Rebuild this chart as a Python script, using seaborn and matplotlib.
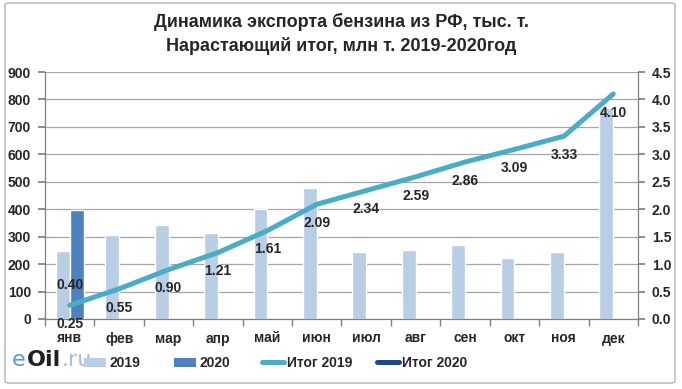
import numpy as np
import pandas as pd
import matplotlib
matplotlib.use("Agg")
import matplotlib.pyplot as plt
from matplotlib.lines import Line2D
from matplotlib.patches import Patch, FancyBboxPatch
import seaborn as sns

# -----------------------------
# Data
# -----------------------------
months = ["янв", "фев", "мар", "апр", "май", "июн", "июл", "авг", "сен", "окт", "ноя", "дек"]
export_2019 = [248, 305, 342, 313, 400, 478, 245, 252, 270, 222, 245, 770]
export_2020 = [397] + [np.nan] * 11
total_2019 = [0.25, 0.55, 0.90, 1.21, 1.61, 2.09, 2.34, 2.59, 2.86, 3.09, 3.33, 4.10]
total_2020 = [0.40]
left_ticks = list(range(0, 901, 100))
right_ticks = [0.0, 0.5, 1.0, 1.5, 2.0, 2.5, 3.0, 3.5, 4.0, 4.5]

C2019 = "#B9CDE5"
C2020 = "#4F81BD"
CLINE19 = "#4BACC6"
CLINE20 = "#1F497D"
GRID = "#A6A6A6"

sns.set_theme(style="white")
plt.rcParams["font.family"] = ["Liberation Sans Narrow", "Liberation Sans", "DejaVu Sans"]
plt.rcParams["font.weight"] = "bold"

df = pd.DataFrame({
    "month": months * 2,
    "year": ["2019"] * 12 + ["2020"] * 12,
    "value": export_2019 + export_2020,
})

fig = plt.figure(figsize=(6.82, 3.89), dpi=100)
ax = fig.add_axes([45 / 682, 1 - 319 / 389, (638 - 45) / 682, (319 - 72) / 389])

# outer frame
fig.patches.append(FancyBboxPatch((5 / 682, 6 / 389), 670 / 682, 380 / 389,
                                  boxstyle="round,pad=0,rounding_size=0.006",
                                  transform=fig.transFigure, fill=False,
                                  edgecolor="#BFBFBF", linewidth=1.2))

sns.barplot(data=df, x="month", y="value", hue="year", order=months,
            palette={"2019": C2019, "2020": C2020}, width=0.56,
            ax=ax, legend=False, saturation=1)

ax.set_ylim(0, 900)
ax.set_xlim(-0.5, 11.5)
ax.set_yticks(left_ticks)
ax.yaxis.grid(True, color=GRID, linewidth=0.9)
ax.set_axisbelow(True)
ax.set_xlabel("")
ax.set_ylabel("")
for s in ["top", "right"]:
    ax.spines[s].set_visible(False)
for s in ["left", "bottom"]:
    ax.spines[s].set_color("#808080")
    ax.spines[s].set_linewidth(0.9)
ax.tick_params(axis="y", length=5, color="#808080", labelsize=10, pad=5, left=True)
ax.tick_params(axis="x", which="major", length=0, labelsize=10, pad=9)
ax.set_xticks(np.arange(-0.5, 12, 1), minor=True)
ax.tick_params(axis="x", which="minor", length=5, color="#808080", bottom=True)

ax2 = ax.twinx()
sns.lineplot(x=np.arange(12), y=total_2019, ax=ax2, color=CLINE19, linewidth=3.6)
sns.lineplot(x=np.arange(len(total_2020)), y=total_2020, ax=ax2, color=CLINE20, linewidth=3.6)
ax2.set_ylim(0, 4.5)
ax2.set_xlim(-0.5, 11.5)
ax2.set_yticks(right_ticks)
ax2.set_yticklabels([f"{v:.1f}" for v in right_ticks])
ax2.grid(False)
for s in ["top", "left", "bottom"]:
    ax2.spines[s].set_visible(False)
ax2.spines["right"].set_color("#808080")
ax2.spines["right"].set_linewidth(0.9)
ax2.tick_params(axis="y", length=5, color="#808080", labelsize=10, pad=5, right=True)

for i, v in enumerate(total_2019):
    ax2.annotate(f"{v:.2f}", (i, v), xytext=(0, -13.5), textcoords="offset points",
                 ha="center", va="center", fontsize=10, fontweight="bold")
for i, v in enumerate(total_2020):
    ax2.annotate(f"{v:.2f}", (i, v), xytext=(0, 9), textcoords="offset points",
                 ha="center", va="center", fontsize=10, fontweight="bold")

fig.text(0.5, 1 - 22 / 389, "Динамика экспорта бензина из РФ, тыс. т.",
         ha="center", va="center", fontsize=13, fontweight="bold")
fig.text(0.5, 1 - 46 / 389, "Нарастающий итог, млн т. 2019-2020год",
         ha="center", va="center", fontsize=13, fontweight="bold")

# legend, one entry at a time to match spacing
legend_items = [
    (Patch(facecolor=C2019, edgecolor="none"), "2019", 84),
    (Patch(facecolor=C2020, edgecolor="none"), "2020", 174),
    (Line2D([0], [0], color=CLINE19, linewidth=3.6, solid_capstyle="round"), "Итог 2019", 262),
    (Line2D([0], [0], color=CLINE20, linewidth=3.6, solid_capstyle="round"), "Итог 2020", 377),
]
for h, lab, x0 in legend_items:
    fig.legend([h], [lab], loc="center left", bbox_to_anchor=(x0 / 682, 1 - 363 / 389),
               frameon=False, fontsize=10, handlelength=1.6, handleheight=0.6,
               handletextpad=0.2, borderpad=0, borderaxespad=0)

# eOil.ru logo
fig.text(12 / 682, 1 - 360 / 389, "e", color="#5B9BD5", fontsize=16,
         ha="left", va="center", family=["DejaVu Sans"], fontweight="normal")
fig.text(27 / 682, 1 - 360 / 389, "Oil", color="#202020", fontsize=16,
         ha="left", va="center", family=["DejaVu Sans"], fontweight="bold")
fig.text(62 / 682, 1 - 360 / 389, ".ru", color="#A6BFD9", fontsize=16,
         ha="left", va="center", family=["DejaVu Sans"], fontweight="normal")

fig.savefig("out.png", dpi=100)
